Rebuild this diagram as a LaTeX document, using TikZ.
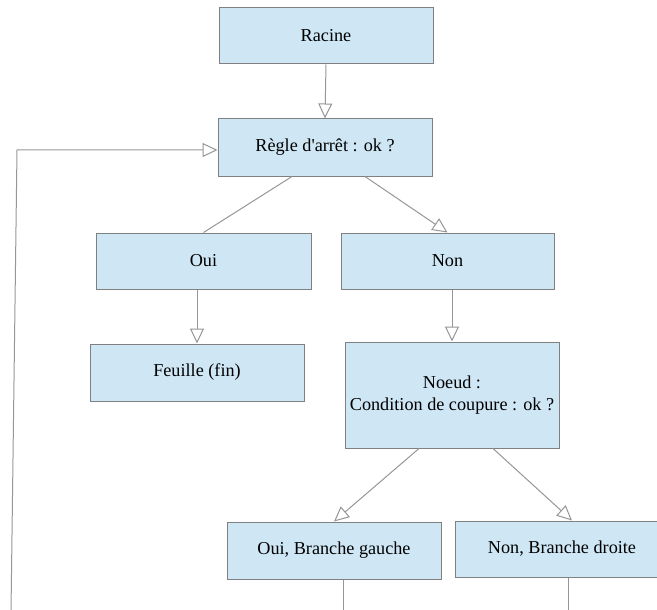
\documentclass[tikz,border=0pt]{standalone}
\usepackage{fontspec}
\setmainfont{Liberation Serif}[Ligatures=TeXOff]
\usepackage{tikz}
\usetikzlibrary{arrows.meta, positioning}
\definecolor{boite}{RGB}{207,231,245}
\definecolor{bord}{RGB}{128,128,128}
\definecolor{trait}{RGB}{150,150,150}
\tikzset{>={Triangle[open, fill=white, length=15pt, width=14pt]}}

\begin{document}
\begin{tikzpicture}[x=1pt, y=-1pt, line width=1pt,
    etape/.style={draw=bord, fill=boite, minimum width=214pt, minimum height=56pt,
      inner sep=0pt, align=center, font=\fontsize{18.2}{22}\selectfont},
    lien/.style={draw=trait}]
  \useasboundingbox (0,0) rectangle (657,610);
  \clip (0,0) rectangle (657,610);
      \node[etape](racine) at (326,36){Racine};
      \node[etape, minimum height=57pt](regle) at (325,147.5){Règle d'arrêt : ok ?};
      \node[etape, minimum width=215pt](oui) at (203.5,261){Oui};
      \node[etape, minimum width=213pt](non) at (447.5,261){Non};
      \node[etape, minimum height=57pt](feuille) at (197,372.5){Feuille (fin)};
      \node[etape, minimum height=106pt](noeud) at (452,395){Noeud :\\Condition de coupure : ok ?};
      \node[etape, minimum height=57pt](gauche) at (334,550.5){Oui, Branche gauche};
      \node[etape](droite) at (562,549){Non, Branche droite};
      \coordinate (bas) at (11,612);
      \coordinate (coin) at (17,150);
      \coordinate (gbas) at (343,612);
      \coordinate (dbas) at (568,612);
  \draw[lien, ->](racine.south)--(regle.north);
  \draw[lien, ->](bas)--(coin)--(coin -| regle.west);
  \draw[lien]([xshift=-33pt]regle.south)--(oui.north);
  \draw[lien, ->]([xshift=40pt]regle.south)--(non.north);
  \draw[lien, ->](feuille.north |- oui.south)--(feuille.north);
  \draw[lien, ->](noeud.north |- non.south)--(noeud.north);
  \draw[lien, ->]([xshift=-33pt]noeud.south)--(gauche.north);
  \draw[lien, ->]([xshift=41pt]noeud.south)--([xshift=10pt]droite.north);
  \draw[lien]([xshift=9pt]gauche.south)--(gbas);
  \draw[lien]([xshift=6pt]droite.south)--(dbas);
  \end{tikzpicture}
\end{document}
